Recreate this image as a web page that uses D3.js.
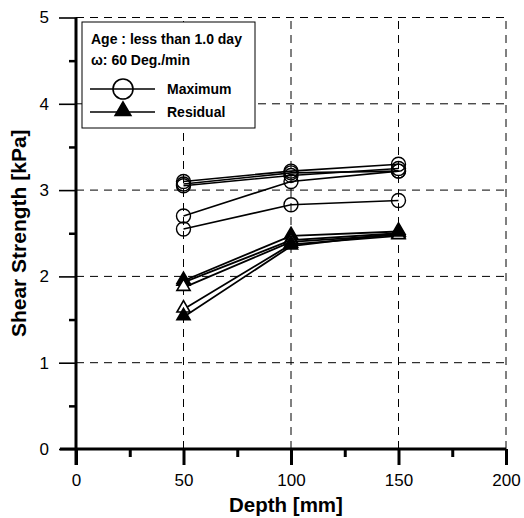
<!DOCTYPE html>
<html>
<head>
<meta charset="utf-8">
<script src="https://cdn.jsdelivr.net/npm/d3@7"></script>
<style>
  body { margin: 0; background: #fff; }
  svg text { font-family: "Liberation Sans", Arial, sans-serif; fill: #000; }
</style>
</head>
<body>
<div id="chart"></div>
<script>
// depths where the vane tests were done
var depths = [50, 100, 150];

// maximum shear strength, one array per test series
var maxSeries = [
    [3.10, 3.22, 3.30],
    [3.05, 3.17, 3.25],
    [3.07, 3.20, 3.22],
    [2.70, 3.10, 3.22],
    [2.55, 2.83, 2.88]
];

// residual shear strength
var resSeries = [
    [1.95, 2.47, 2.52],
    [1.93, 2.42, 2.50],
    [1.87, 2.40, 2.48],
    [1.62, 2.37, 2.47],
    [1.53, 2.35, 2.50]
];
var resFilled = [true, true, false, false, true];

var xTicks = [0, 50, 100, 150, 200];
var yTicks = [0, 1, 2, 3, 4, 5];

var width = 524, height = 518;

var x = d3.scaleLinear().domain([0, 200]).range([76, 506]);
var y = d3.scaleLinear().domain([0, 5]).range([449, 17.5]);

var svg = d3.select("#chart").append("svg")
    .attr("width", width)
    .attr("height", height);

// dashed grid
var grid = svg.append("g").attr("class", "grid")
    .attr("stroke", "#000")
    .attr("stroke-width", 1)
    .attr("stroke-dasharray", "8,6");

grid.selectAll("line.h")
    .data(yTicks.filter(function(d) { return d > 0; }))
    .enter().append("line")
    .attr("x1", x(0)).attr("x2", x(200))
    .attr("y1", function(d) { return y(d); })
    .attr("y2", function(d) { return y(d); });

grid.selectAll("line.v")
    .data(xTicks.filter(function(d) { return d > 0; }))
    .enter().append("line")
    .attr("y1", y(0)).attr("y2", y(5))
    .attr("x1", function(d) { return x(d); })
    .attr("x2", function(d) { return x(d); });

// x axis
var xAxis = d3.axisBottom(x).tickValues(xTicks).tickSize(16).tickPadding(9).tickFormat(d3.format("d"));
var gx = svg.append("g")
    .attr("transform", "translate(0," + y(0) + ")")
    .call(xAxis);
gx.select(".domain").attr("stroke-width", 3).attr("d", "M" + (x(0) - 16) + ",0H" + x(200));
gx.selectAll(".tick line").attr("stroke-width", 3);
gx.selectAll(".tick text").style("font-size", "17px").attr("font-family", null);

var gxm = svg.append("g")
    .attr("transform", "translate(0," + y(0) + ")")
    .call(d3.axisBottom(x).tickValues([25, 75, 125, 175]).tickSize(8).tickFormat(""));
gxm.select(".domain").remove();
gxm.selectAll(".tick line").attr("stroke-width", 3);

// y axis
var yAxis = d3.axisLeft(y).tickValues(yTicks).tickSize(17).tickPadding(10).tickFormat(d3.format("d"));
var gy = svg.append("g")
    .attr("transform", "translate(" + x(0) + ",0)")
    .call(yAxis);
gy.select(".domain").attr("stroke-width", 3).attr("d", "M0," + y(5) + "V" + (y(0) + 16));
gy.selectAll(".tick line").attr("stroke-width", 1.6);
gy.selectAll(".tick text").style("font-size", "17px").attr("font-family", null);

var gym = svg.append("g")
    .attr("transform", "translate(" + x(0) + ",0)")
    .call(d3.axisLeft(y).tickValues([0.5, 1.5, 2.5, 3.5, 4.5]).tickSize(7).tickFormat(""));
gym.select(".domain").remove();
gym.selectAll(".tick line").attr("stroke-width", 2.5);

// axis titles
svg.append("text")
    .attr("x", 286)
    .attr("y", 512)
    .attr("text-anchor", "middle")
    .style("font-size", "20.5px")
    .style("font-weight", "bold")
    .text("Depth [mm]");

svg.append("text")
    .attr("transform", "translate(26," + ((y(0) + y(5)) / 2) + ") rotate(-90)")
    .attr("text-anchor", "middle")
    .style("font-size", "21px")
    .style("font-weight", "bold")
    .text("Shear Strength [kPa]");

var line = d3.line()
    .x(function(d, i) { return x(depths[i]); })
    .y(function(d) { return y(d); });

var tri = d3.symbol().type(d3.symbolTriangle).size(75);

// maximum lines and circles
maxSeries.forEach(function(s) {
    svg.append("path")
        .attr("d", line(s))
        .attr("fill", "none")
        .attr("stroke", "#000")
        .attr("stroke-width", 1.6);
    svg.selectAll(null)
        .data(s)
        .enter().append("circle")
        .attr("cx", function(d, i) { return x(depths[i]); })
        .attr("cy", function(d) { return y(d); })
        .attr("r", 7)
        .attr("fill", "none")
        .attr("stroke", "#000")
        .attr("stroke-width", 1.4);
});

// residual lines and triangles
resSeries.forEach(function(s, k) {
    svg.append("path")
        .attr("d", line(s))
        .attr("fill", "none")
        .attr("stroke", "#000")
        .attr("stroke-width", 1.8);
    svg.selectAll(null)
        .data(s)
        .enter().append("path")
        .attr("d", tri)
        .attr("transform", function(d, i) { return "translate(" + x(depths[i]) + "," + (y(d) - 1) + ")"; })
        .attr("fill", resFilled[k] ? "#000" : "#fff")
        .attr("stroke", "#000")
        .attr("stroke-width", 1.6);
});

// legend
var legend = svg.append("g").attr("class", "legend");
legend.append("rect")
    .attr("x", 82).attr("y", 22)
    .attr("width", 173).attr("height", 106)
    .attr("fill", "#fff")
    .attr("stroke", "#000")
    .attr("stroke-width", 1);

legend.append("text")
    .attr("x", 91).attr("y", 44)
    .style("font-size", "14px").style("font-weight", "bold")
    .text("Age : less than 1.0 day");
legend.append("text")
    .attr("x", 91).attr("y", 65)
    .style("font-size", "14px").style("font-weight", "bold")
    .text("\u03c9: 60 Deg./min");

var legendItems = [["Maximum", 89], ["Residual", 112]];
legend.selectAll("g.item")
    .data(legendItems)
    .enter().append("g")
    .each(function(d, i) {
        var g = d3.select(this);
        g.append("line")
            .attr("x1", 90).attr("x2", 155)
            .attr("y1", d[1]).attr("y2", d[1])
            .attr("stroke", "#000").attr("stroke-width", 1.6);
        if (i == 0) {
            g.append("circle")
                .attr("cx", 123).attr("cy", d[1]).attr("r", 10)
                .attr("fill", "none").attr("stroke", "#000").attr("stroke-width", 1.6);
        } else {
            g.append("path")
                .attr("d", d3.symbol().type(d3.symbolTriangle).size(110))
                .attr("transform", "translate(123," + (d[1] - 1) + ")")
                .attr("fill", "#000").attr("stroke", "#000").attr("stroke-width", 1.5);
        }
        g.append("text")
            .attr("x", 167).attr("y", d[1] + 5)
            .style("font-size", "14px").style("font-weight", "bold")
            .text(d[0]);
    });
</script>
</body>
</html>
